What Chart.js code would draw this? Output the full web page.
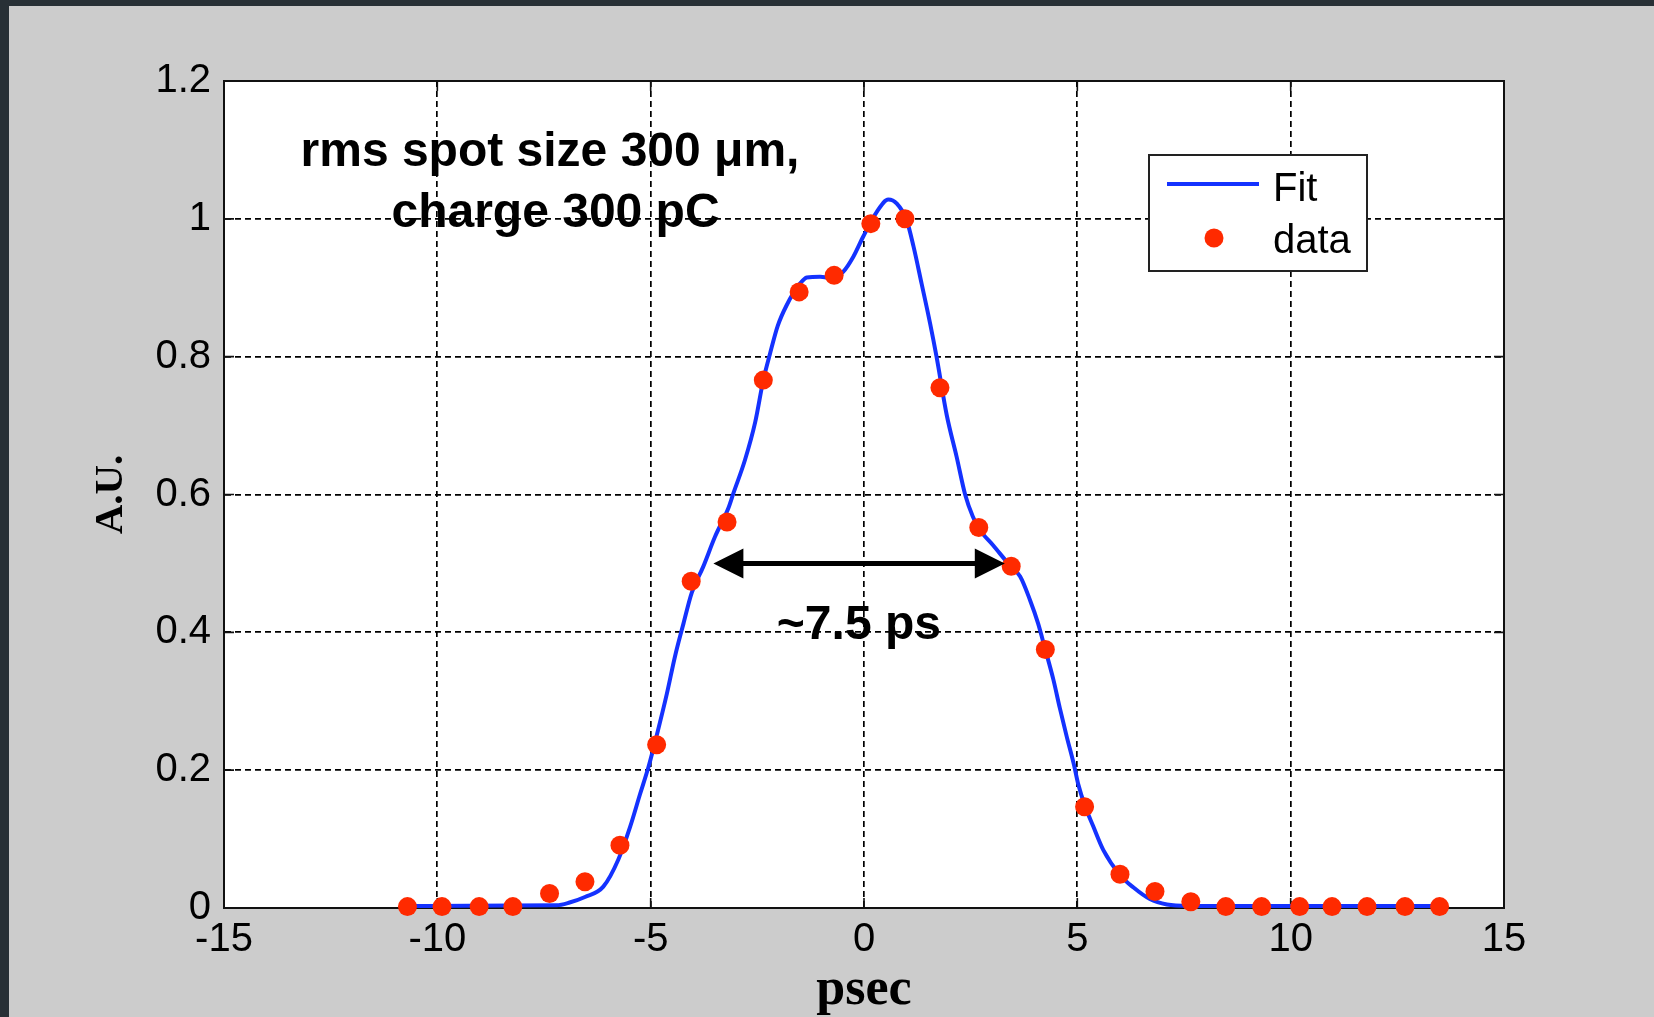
<!DOCTYPE html>
<html lang="en">
<head>
<meta charset="UTF-8">
<title>Bunch length profile</title>
<script src="https://cdn.jsdelivr.net/npm/chart.js"></script>
<style>
  html, body { margin: 0; padding: 0; background: #283036; overflow: hidden; }
  #wrap { position: absolute; left: 0; top: 0; width: 1654px; height: 1017px; }
</style>
</head>
<body>
<div id="wrap"><canvas id="profileChart" width="1654" height="1017"></canvas></div>
<script>
// measured points (psec, A.U.)
const dataX = [-10.70, -9.89, -9.02, -8.23, -7.37, -6.54, -5.72, -4.86, -4.05, -3.21,
               -2.36, -1.52, -0.70, 0.16, 0.96, 1.78, 2.69, 3.45, 4.25, 5.17,
               6.00, 6.82, 7.66, 8.48, 9.32, 10.21, 10.97, 11.79, 12.68, 13.49];
const dataY = [0.002, 0.002, 0.002, 0.002, 0.021, 0.038, 0.091, 0.237, 0.474, 0.560,
               0.766, 0.894, 0.918, 0.993, 1.000, 0.755, 0.552, 0.496, 0.375, 0.147,
               0.049, 0.024, 0.009, 0.002, 0.002, 0.002, 0.002, 0.002, 0.002, 0.002];

// fitted curve
const fitX = [-10.75, -7.20, -6.90, -6.54, -6.11, -5.76, -5.48, -5.25, -5.05, -4.86,
              -4.62, -4.43, -4.23, -4.04, -3.77, -3.49, -3.18, -3.06, -2.79, -2.55,
              -2.36, -2.20, -2.02, -1.81, -1.50, -1.34, -1.03, -0.72, -0.49, -0.25,
              -0.02, 0.30, 0.57, 0.77, 1.00, 1.16, 1.35, 1.55, 1.70, 1.94,
              2.17, 2.37, 2.55, 2.70, 3.03, 3.42, 3.66, 3.89, 4.08, 4.24,
              4.44, 4.59, 4.75, 4.92, 5.02, 5.18, 5.37, 5.61, 6.00, 6.31,
              6.70, 7.10, 7.60, 13.55];
const fitY = [0.003, 0.004, 0.008, 0.016, 0.031, 0.070, 0.118, 0.165, 0.205, 0.250,
              0.311, 0.365, 0.413, 0.457, 0.495, 0.539, 0.580, 0.602, 0.650, 0.705,
              0.766, 0.805, 0.845, 0.875, 0.906, 0.915, 0.916, 0.914, 0.923, 0.945,
              0.974, 1.010, 1.028, 1.022, 0.998, 0.960, 0.906, 0.848, 0.800, 0.715,
              0.655, 0.600, 0.568, 0.550, 0.526, 0.497, 0.481, 0.447, 0.413, 0.377,
              0.331, 0.290, 0.249, 0.208, 0.180, 0.148, 0.119, 0.084, 0.048, 0.030,
              0.013, 0.005, 0.003, 0.003];

const xTicks = [-15, -10, -5, 0, 5, 10, 15];
const yTicks = [0, 0.2, 0.4, 0.6, 0.8, 1, 1.2];

const noteLines = ['rms spot size 300 μm,', 'charge 300 pC'];
const widthLabel = '~7.5 ps';
// FWHM arrow, in data units
const fwhmFrom = -3.53;
const fwhmTo = 3.30;
const fwhmLevel = 0.5;

const sansFont = '"Liberation Sans", Arial, sans-serif';
const serifFont = '"Liberation Serif", "Times New Roman", serif';

// grey panel, white plot area
const backdrop = {
    id: 'backdrop',
    beforeDraw(chart) {
        const { ctx, width, height, chartArea: a } = chart;
        ctx.save();
        ctx.fillStyle = '#283036';
        ctx.fillRect(0, 0, width, height);
        ctx.fillStyle = '#cccccc';
        ctx.fillRect(9, 6, width - 9, height - 6);
        ctx.fillStyle = '#ffffff';
        ctx.fillRect(a.left, a.top, a.right - a.left, a.bottom - a.top);
        ctx.restore();
    }
};

// box round the axes plus the small inward ticks
const frame = {
    id: 'frame',
    beforeDatasetsDraw(chart) {
        const { ctx, chartArea: a, scales } = chart;
        ctx.save();
        ctx.strokeStyle = '#111';
        ctx.lineWidth = 1.6;
        ctx.beginPath();
        xTicks.slice(1, -1).forEach(v => {
            const px = scales.x.getPixelForValue(v);
            ctx.moveTo(px, a.bottom); ctx.lineTo(px, a.bottom - 10);
            ctx.moveTo(px, a.top); ctx.lineTo(px, a.top + 10);
        });
        yTicks.slice(1, -1).forEach(v => {
            const py = scales.y.getPixelForValue(v);
            ctx.moveTo(a.left, py); ctx.lineTo(a.left + 10, py);
            ctx.moveTo(a.right, py); ctx.lineTo(a.right - 10, py);
        });
        ctx.stroke();
        ctx.lineWidth = 2;
        ctx.strokeRect(a.left, a.top, a.right - a.left, a.bottom - a.top);
        ctx.restore();
    }
};

// text notes, FWHM arrow and the legend box
const notes = {
    id: 'notes',
    afterDatasetsDraw(chart) {
        const { ctx, chartArea: a, scales } = chart;
        const xs = scales.x, ys = scales.y;
        ctx.save();
        ctx.fillStyle = '#000';
        ctx.font = 'bold 48px ' + sansFont;
        ctx.textAlign = 'center';
        ctx.textBaseline = 'alphabetic';
        ctx.fillText(noteLines[0], xs.getPixelForValue(-7.36), ys.getPixelForValue(1.077));
        ctx.fillText(noteLines[1], xs.getPixelForValue(-7.23), ys.getPixelForValue(0.9885));
        ctx.fillText(widthLabel, xs.getPixelForValue(-0.12), ys.getPixelForValue(0.391));

        // double arrow
        const y = ys.getPixelForValue(fwhmLevel);
        const x1 = xs.getPixelForValue(fwhmFrom);
        const x2 = xs.getPixelForValue(fwhmTo);
        const head = 30, half = 15;
        ctx.strokeStyle = '#000';
        ctx.lineWidth = 5;
        ctx.beginPath();
        ctx.moveTo(x1 + head - 2, y);
        ctx.lineTo(x2 - head + 2, y);
        ctx.stroke();
        ctx.beginPath();
        ctx.moveTo(x1, y); ctx.lineTo(x1 + head, y - half); ctx.lineTo(x1 + head, y + half); ctx.closePath();
        ctx.moveTo(x2, y); ctx.lineTo(x2 - head, y - half); ctx.lineTo(x2 - head, y + half); ctx.closePath();
        ctx.fill();

        // legend
        const fit = chart.data.datasets[0], pts = chart.data.datasets[1];
        const bx = a.right - 355, by = a.top + 74, bw = 218, bh = 116;
        ctx.fillStyle = '#fff';
        ctx.fillRect(bx, by, bw, bh);
        ctx.strokeStyle = '#222';
        ctx.lineWidth = 2;
        ctx.strokeRect(bx, by, bw, bh);
        ctx.strokeStyle = fit.borderColor;
        ctx.lineWidth = fit.borderWidth;
        ctx.beginPath();
        ctx.moveTo(bx + 18, by + 29);
        ctx.lineTo(bx + 110, by + 29);
        ctx.stroke();
        ctx.fillStyle = pts.pointBackgroundColor;
        ctx.beginPath();
        ctx.arc(bx + 65, by + 83, pts.pointRadius, 0, Math.PI * 2);
        ctx.fill();
        ctx.fillStyle = '#000';
        ctx.font = '40px ' + sansFont;
        ctx.textAlign = 'left';
        ctx.fillText(fit.label, bx + 124, by + 46);
        ctx.fillText(pts.label, bx + 124, by + 98);
        ctx.restore();
    }
};

const ctx = document.getElementById('profileChart').getContext('2d');
new Chart(ctx, {
    type: 'scatter',
    data: {
        datasets: [
            {
                label: 'Fit',
                data: fitX.map((x, i) => ({ x: x, y: fitY[i] })),
                showLine: true,
                borderColor: '#1432ff',
                borderWidth: 4,
                pointRadius: 0,
                cubicInterpolationMode: 'monotone',
                clip: false,
                order: 1
            },
            {
                label: 'data',
                data: dataX.map((x, i) => ({ x: x, y: dataY[i] })),
                showLine: false,
                pointRadius: 9.5,
                pointBackgroundColor: '#ff2a00',
                pointBorderWidth: 0,
                clip: false,
                order: 0
            }
        ]
    },
    options: {
        responsive: false,
        animation: false,
        layout: { padding: { left: 0, top: 81, right: 150, bottom: 0 } },
        plugins: { legend: { display: false }, tooltip: { enabled: false } },
        scales: {
            x: {
                type: 'linear',
                min: -15, max: 15,
                afterBuildTicks: s => { s.ticks = xTicks.map(v => ({ value: v })); },
                afterFit: s => { s.height = 109; },
                grid: { color: '#000', lineWidth: 1.7, drawTicks: false },
                border: { display: true, color: '#111', width: 2, dash: [6, 4] },
                ticks: {
                    color: '#000', padding: 8, maxRotation: 0,
                    font: { family: sansFont, size: 40 },
                    callback: v => String(v)
                },
                title: {
                    display: true, text: 'psec', color: '#000',
                    font: { family: serifFont, size: 52, weight: 'bold', lineHeight: 1.0 },
                    padding: { top: 0, bottom: 0 }
                }
            },
            y: {
                type: 'linear',
                min: 0, max: 1.2,
                afterBuildTicks: s => { s.ticks = yTicks.map(v => ({ value: v })); },
                afterFit: s => { s.width = 224; },
                grid: { color: '#000', lineWidth: 1.7, drawTicks: false },
                border: { display: true, color: '#111', width: 2, dash: [6, 4] },
                ticks: {
                    color: '#000', padding: 13,
                    font: { family: sansFont, size: 40 },
                    callback: v => String(v)
                },
                title: {
                    display: true, text: 'A.U.', color: '#000',
                    font: { family: serifFont, size: 41, weight: 'bold' },
                    padding: { top: 87, bottom: 0 }
                }
            }
        }
    },
    plugins: [backdrop, frame, notes]
});
</script>
</body>
</html>
